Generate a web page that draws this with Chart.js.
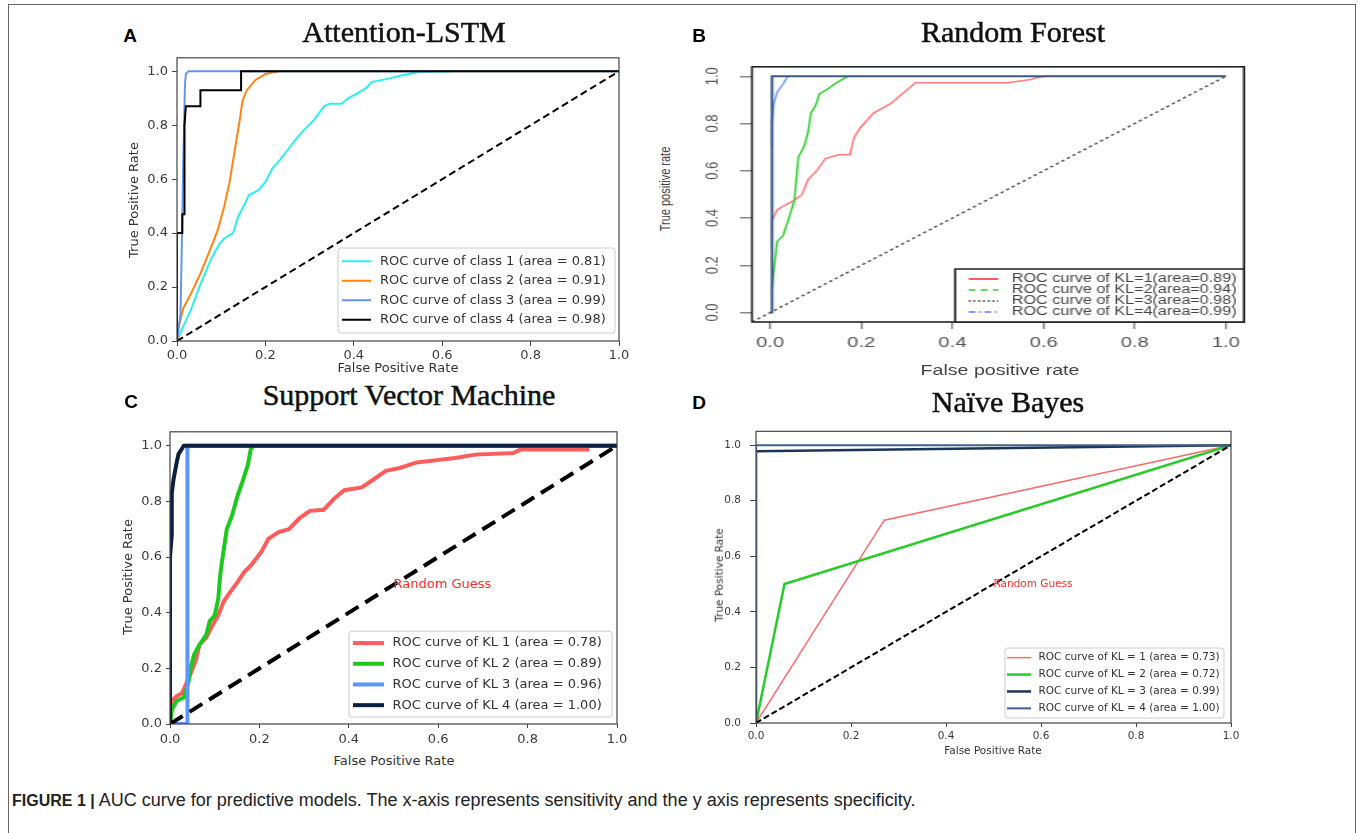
<!DOCTYPE html>
<html>
<head>
<meta charset="utf-8">
<script src="https://cdn.jsdelivr.net/npm/chart.js@4/dist/chart.umd.min.js"></script>
<style>
  html, body { margin: 0; padding: 0; background: #fff; width: 1360px; height: 833px; overflow: hidden; }
  body { position: relative; font-family: "DejaVu Sans", sans-serif; }
  #border { position: absolute; left: 8px; top: 4px; width: 1348px; height: 860px; border: 1px solid #666; box-sizing: border-box; }
  canvas { position: absolute; }
  .c { position: absolute; white-space: nowrap; line-height: 1; transform: translate(-50%, -50%); color: #333; }
  .rot { transform: translate(-50%, -50%) rotate(-90deg); }
  .ttl { font-family: "Liberation Serif", serif; font-size: 30px; color: #111; -webkit-text-stroke: 0.5px #111; }
  .let { font-family: "Liberation Sans", Arial, sans-serif; font-size: 19px; font-weight: bold; color: #000; }
  .mpl { font-size: 13px; }
  .mpls { font-size: 10.5px; }
  .rlab { font-family: "Liberation Sans", Arial, sans-serif; color: #444; }
  #caption { position: absolute; left: 12px; top: 790px; font-family: "Liberation Sans", Arial, sans-serif; font-size: 18px; color: #222; white-space: nowrap; }
  #caption b { font-size: 16px; }
</style>
</head>
<body>
<div id="border"></div>
<canvas id="lstm"></canvas>
<canvas id="forest"></canvas>
<canvas id="svm"></canvas>
<canvas id="bayes"></canvas>

<div class="c let" style="left:130px;top:35px">A</div>
<div class="c ttl" style="left:404px;top:32px">Attention-LSTM</div>
<div class="c mpl rot" style="left:133px;top:200px">True Positive Rate</div>
<div class="c mpl" style="left:398px;top:367px">False Positive Rate</div>

<div class="c let" style="left:699px;top:35px">B</div>
<div class="c ttl" style="left:1013px;top:32px">Random Forest</div>
<div class="c rlab" style="left:665px;top:189px;font-size:11px;transform:translate(-50%,-50%) rotate(-90deg) scaleY(1.35)">True positive rate</div>
<div class="c rlab" style="left:1000px;top:370px;font-size:14.5px;transform:translate(-50%,-50%) scaleX(1.35)">False positive rate</div>

<div class="c let" style="left:131px;top:401px">C</div>
<div class="c ttl" style="left:409px;top:395px">Support Vector Machine</div>
<div class="c mpl rot" style="left:127px;top:577px">True Positive Rate</div>
<div class="c mpl" style="left:394px;top:760px">False Positive Rate</div>

<div class="c let" style="left:699px;top:402px">D</div>
<div class="c ttl" style="left:1008px;top:402px">Naïve Bayes</div>
<div class="c mpls rot" style="left:719px;top:575px">True Positive Rate</div>
<div class="c mpls" style="left:993px;top:750px">False Positive Rate</div>

<div id="caption"><b>FIGURE 1 |</b> AUC curve for predictive models. The x-axis represents sensitivity and the y axis represents specificity.</div>

<script>
// tick values shared by all four panels
const axisTicks = [0, 0.2, 0.4, 0.6, 0.8, 1.0];
const chanceFpr = [0, 1];
const chanceTpr = [0, 1];

// A: Attention-LSTM
const lstmLabels = ['ROC curve of class 1 (area = 0.81)', 'ROC curve of class 2 (area = 0.91)',
  'ROC curve of class 3 (area = 0.99)', 'ROC curve of class 4 (area = 0.98)'];
const lstmFpr1 = [0, 0.01, 0.03, 0.053, 0.076, 0.096, 0.107, 0.127, 0.138, 0.154, 0.162, 0.185, 0.2, 0.216, 0.232, 0.251, 0.27, 0.286, 0.31, 0.333, 0.345, 0.372, 0.387, 0.41, 0.43, 0.44, 0.47, 0.51, 0.55, 0.62];
const lstmTpr1 = [0, 0.04, 0.11, 0.21, 0.30, 0.36, 0.38, 0.40, 0.46, 0.51, 0.54, 0.56, 0.59, 0.64, 0.67, 0.71, 0.75, 0.78, 0.82, 0.87, 0.88, 0.88, 0.90, 0.92, 0.94, 0.96, 0.97, 0.985, 0.998, 1.0];
const lstmFpr2 = [0, 0.002, 0.014, 0.03, 0.053, 0.068, 0.092, 0.107, 0.119, 0.131, 0.142, 0.148, 0.158, 0.177, 0.2, 0.23];
const lstmTpr2 = [0, 0.04, 0.12, 0.17, 0.25, 0.31, 0.41, 0.50, 0.59, 0.71, 0.82, 0.89, 0.93, 0.967, 0.99, 1.0];
const lstmFpr3 = [0, 0.008, 0.012, 0.014, 0.018, 0.02, 0.026, 1.0];
const lstmTpr3 = [0, 0.1, 0.45, 0.65, 0.95, 0.99, 1.0, 1.0];
const lstmFpr4 = [0, 0, 0.012, 0.012, 0.016, 0.016, 0.018, 0.02, 0.053, 0.053, 0.145, 0.145, 1.0];
const lstmTpr4 = [0, 0.40, 0.40, 0.47, 0.47, 0.60, 0.80, 0.87, 0.87, 0.93, 0.93, 1.0, 1.0];

// B: Random Forest
const forestLabels = ['ROC curve of KL=1(area=0.89)', 'ROC curve of KL=2(area=0.94)',
  'ROC curve of KL=3(area=0.98)', 'ROC curve of KL=4(area=0.99)'];
const forestFpr1 = [0.004, 0.004, 0.015, 0.032, 0.053, 0.07, 0.083, 0.104, 0.121, 0.15, 0.175, 0.184, 0.197, 0.226, 0.264, 0.294, 0.319, 0.521, 0.572, 0.589, 0.606, 1.0];
const forestTpr1 = [0.284, 0.39, 0.434, 0.454, 0.475, 0.50, 0.563, 0.604, 0.652, 0.668, 0.668, 0.74, 0.78, 0.843, 0.884, 0.932, 0.973, 0.973, 0.986, 0.996, 1.0, 1.0];
const forestFpr2 = [0.004, 0.007, 0.015, 0.028, 0.04, 0.053, 0.057, 0.062, 0.074, 0.083, 0.089, 0.1, 0.108, 0.125, 0.146, 0.167, 0.171];
const forestTpr2 = [0.1, 0.16, 0.30, 0.325, 0.393, 0.475, 0.557, 0.659, 0.70, 0.761, 0.843, 0.877, 0.925, 0.945, 0.973, 0.996, 1.0];
const forestFpr3 = [0, 0.004, 0.004, 1.0];
const forestTpr3 = [0, 0, 1.0, 1.0];
const forestFpr4 = [0.004, 0.004, 0.008, 0.015, 0.028, 0.036, 0.04];
const forestTpr4 = [0.693, 0.8, 0.884, 0.932, 0.966, 0.993, 1.0];
const forestChanceFpr = [-0.04, 1.0];
const forestChanceTpr = [-0.04, 1.0];

// C: Support Vector Machine
const svmLabels = ['ROC curve of KL 1 (area = 0.78)', 'ROC curve of KL 2 (area = 0.89)',
  'ROC curve of KL 3 (area = 0.96)', 'ROC curve of KL 4 (area = 1.00)'];
const svmFpr1 = [0, 0.004, 0.015, 0.027, 0.035, 0.046, 0.058, 0.066, 0.081, 0.097, 0.108, 0.12, 0.135, 0.151, 0.166, 0.181, 0.205, 0.22, 0.243, 0.266, 0.29, 0.313, 0.344, 0.367, 0.39, 0.429, 0.452, 0.483, 0.514, 0.552, 0.606, 0.637, 0.683, 0.768, 0.784, 0.938];
const svmTpr1 = [0, 0.083, 0.10, 0.11, 0.14, 0.18, 0.23, 0.285, 0.31, 0.36, 0.39, 0.44, 0.475, 0.51, 0.546, 0.57, 0.62, 0.665, 0.69, 0.70, 0.74, 0.766, 0.77, 0.81, 0.84, 0.85, 0.875, 0.91, 0.92, 0.94, 0.95, 0.956, 0.968, 0.974, 0.986, 0.986];
const svmFpr2 = [0, 0.004, 0.015, 0.031, 0.042, 0.046, 0.054, 0.066, 0.081, 0.089, 0.1, 0.108, 0.112, 0.116, 0.127, 0.139, 0.151, 0.162, 0.174, 0.181, 0.189];
const svmTpr2 = [0, 0.05, 0.083, 0.095, 0.154, 0.2, 0.25, 0.285, 0.32, 0.37, 0.39, 0.45, 0.53, 0.58, 0.70, 0.75, 0.82, 0.87, 0.93, 0.99, 1.0];
const svmFpr3 = [0, 0.039, 0.039, 1.0];
const svmTpr3 = [0, 0, 1.0, 1.0];
const svmFpr4 = [0, 0, 0.004, 0.004, 0.008, 0.015, 0.019, 0.027, 0.031, 1.0];
const svmTpr4 = [0, 0.6, 0.68, 0.83, 0.88, 0.94, 0.97, 0.99, 1.0, 1.0];

// D: Naive Bayes
const bayesLabels = ['ROC curve of KL = 1 (area = 0.73)', 'ROC curve of KL = 2 (area = 0.72)',
  'ROC curve of KL = 3 (area = 0.99)', 'ROC curve of KL = 4 (area = 1.00)'];
const bayesFpr1 = [0, 0.27, 1.0];
const bayesTpr1 = [0, 0.73, 1.0];
const bayesFpr2 = [0, 0.06, 1.0];
const bayesTpr2 = [0, 0.50, 1.0];
const bayesFpr3 = [0, 0, 1.0];
const bayesTpr3 = [0, 0.978, 1.0];
const bayesFpr4 = [0, 0, 1.0];
const bayesTpr4 = [0, 1.0, 1.0];

const noteText = 'Random Guess';

// plugins: full box around the plot, legend inside the plot, free text at data coords
const frameBox = {
  id: 'frameBox',
  afterDatasetsDraw(chart, args, o) {
    if (!o.color) return;
    const a = chart.chartArea, ctx = chart.ctx;
    ctx.save();
    ctx.strokeStyle = o.color; ctx.lineWidth = o.width;
    ctx.strokeRect(a.left, a.top, a.right - a.left, a.bottom - a.top);
    ctx.restore();
  }
};
const boxLegend = {
  id: 'boxLegend',
  afterDatasetsDraw(chart, args, o) {
    if (!o.width) return;
    const ctx = chart.ctx, a = chart.chartArea;
    const items = chart.data.datasets.filter(d => d.label);
    const h = o.pad * 2 + o.rowH * items.length;
    const x0 = a.right - o.right - o.width, y0 = a.bottom - o.bottom - h;
    ctx.save();
    ctx.fillStyle = 'rgba(255,255,255,0.85)';
    ctx.strokeStyle = o.border; ctx.lineWidth = o.borderWidth;
    ctx.beginPath(); ctx.roundRect(x0, y0, o.width, h, o.radius); ctx.fill(); ctx.stroke();
    items.forEach((d, i) => {
      const y = y0 + o.pad + o.rowH * (i + 0.5);
      ctx.strokeStyle = d.legendColor || d.borderColor;
      ctx.lineWidth = d.legendWidth || d.borderWidth;
      ctx.setLineDash(d.legendDash || []);
      ctx.beginPath(); ctx.moveTo(x0 + o.sample[0], y); ctx.lineTo(x0 + o.sample[1], y); ctx.stroke();
      ctx.setLineDash([]);
      ctx.fillStyle = o.color; ctx.font = o.font;
      ctx.textBaseline = 'middle'; ctx.textAlign = 'left';
      ctx.fillText(d.label, x0 + o.textX, y);
    });
    ctx.restore();
  }
};
const note = {
  id: 'note',
  afterDatasetsDraw(chart, args, o) {
    if (!o.text) return;
    const ctx = chart.ctx;
    ctx.save();
    ctx.font = o.font; ctx.fillStyle = o.color; ctx.textBaseline = 'middle'; ctx.textAlign = 'left';
    ctx.fillText(o.text, chart.scales.x.getPixelForValue(o.x), chart.scales.y.getPixelForValue(o.y));
    ctx.restore();
  }
};
Chart.register(frameBox, boxLegend, note);

function curve(label, fpr, tpr, color, width, order, extra) {
  return Object.assign({
    label, data: fpr.map((x, i) => ({ x, y: tpr[i] })),
    borderColor: color, backgroundColor: color, borderWidth: width,
    showLine: true, pointRadius: 0, fill: false, tension: 0, order
  }, extra || {});
}

function makeChart(id, s) {
  const cv = document.getElementById(id);
  const sx = s.sx || 1;
  const cssW = s.frame.r - s.frame.l + s.m.l + s.m.r;
  const cssH = s.frame.b - s.frame.t + s.m.t + s.m.b;
  cv.style.left = (s.frame.l - s.m.l) + 'px';
  cv.style.top = (s.frame.t - s.m.t) + 'px';
  cv.style.width = cssW + 'px';
  cv.style.height = cssH + 'px';
  cv.width = Math.round(cssW / sx);
  cv.height = cssH;
  const setTicks = sc => { sc.ticks = axisTicks.map(v => ({ value: v })); };
  return new Chart(cv, {
    type: 'scatter',
    data: { datasets: s.datasets },
    options: {
      responsive: false, animation: false, events: [],
      layout: { padding: { left: 0, top: s.m.t, right: s.m.r / sx, bottom: 0 } },
      plugins: { legend: { display: false }, tooltip: { enabled: false },
        frameBox: s.box, boxLegend: s.legend, note: s.note || {} },
      scales: {
        x: {
          type: 'linear', min: s.xr[0], max: s.xr[1],
          afterBuildTicks: setTicks,
          afterFit: sc => { sc.height = s.m.b; },
          border: { display: false },
          grid: { drawOnChartArea: false, tickLength: s.tickX, color: s.tickColor, lineWidth: s.tickWidth },
          ticks: { font: { family: s.family, size: s.fontX }, color: s.tickText, padding: s.padX,
            maxRotation: 0, minRotation: 0, autoSkip: false, callback: v => v.toFixed(1) }
        },
        y: {
          type: 'linear', min: s.yr[0], max: s.yr[1],
          afterBuildTicks: setTicks,
          afterFit: sc => { sc.width = s.m.l / sx; },
          border: { display: false },
          grid: { drawOnChartArea: false, tickLength: s.tickY, color: s.tickColor, lineWidth: s.tickWidth },
          ticks: { font: { family: s.family, size: s.fontY }, color: s.tickText, padding: s.padY,
            minRotation: s.yRot || 0, maxRotation: s.yRot || 0, crossAlign: s.yRot ? 'center' : 'near',
            autoSkip: false, callback: v => v.toFixed(1) }
        }
      }
    }
  });
}

// A
makeChart('lstm', {
  frame: { l: 177, t: 56, r: 619, b: 341 }, m: { l: 60, r: 20, t: 10, b: 25 },
  xr: [0, 1], yr: [0, 1.05], family: 'DejaVu Sans', fontX: 13, fontY: 13,
  tickX: 5, tickY: 5, padX: 2, padY: 4, tickColor: '#444', tickWidth: 1, tickText: '#3a3a3a',
  box: { color: '#444', width: 1.2 },
  legend: { width: 277, right: 4, bottom: 8, rowH: 19.5, pad: 3.5, sample: [4, 33], textX: 42,
    font: '13px "DejaVu Sans"', color: '#333', border: '#cccccc', borderWidth: 1, radius: 3 },
  datasets: [
    curve(lstmLabels[0], lstmFpr1, lstmTpr1, '#29f0f0', 2, 10),
    curve(lstmLabels[1], lstmFpr2, lstmTpr2, '#ff8410', 2, 9),
    curve(lstmLabels[2], lstmFpr3, lstmTpr3, '#6495ed', 2, 8),
    curve(lstmLabels[3], lstmFpr4, lstmTpr4, '#000000', 2, 7),
    curve('', chanceFpr, chanceTpr, '#000000', 2, 0, { borderDash: [7, 4] })
  ]
});

// B (R output, stretched sideways)
const rs = 1.35;
makeChart('forest', {
  sx: rs,
  frame: { l: 752, t: 58, r: 1244, b: 322 }, m: { l: 60, r: 20, t: 10, b: 35 },
  xr: [-0.04, 1.04], yr: [-0.04, 1.04], family: 'Liberation Sans', fontX: 15, fontY: 13, yRot: 90,
  tickX: 7, tickY: 12 / rs, padX: 5, padY: 11, tickColor: '#888', tickWidth: 1.5, tickText: '#555',
  box: { color: '#222', width: 1.6 },
  legend: { width: 289 / rs, right: 0, bottom: 0, rowH: 11, pad: 4.5, sample: [13.5 / rs, 43 / rs], textX: 56.5 / rs,
    font: '12px "Liberation Sans"', color: '#444', border: '#222', borderWidth: 1.6, radius: 0 },
  datasets: [
    curve(forestLabels[0], forestFpr1, forestTpr1, '#ff7a7a', 1.5, 9, { legendColor: '#ff5a5a', legendWidth: 2 }),
    curve(forestLabels[1], forestFpr2, forestTpr2, '#30d030', 1.5, 8, { legendDash: [5, 4], legendWidth: 1.6 }),
    curve(forestLabels[2], forestFpr3, forestTpr3, '#3b5a82', 2, 6, { legendColor: '#333', legendDash: [1.5, 2], legendWidth: 1.6 }),
    curve(forestLabels[3], forestFpr4, forestTpr4, '#7a9cff', 1.5, 7, { legendColor: '#7070ff', legendDash: [5, 2.5, 1.5, 2.5], legendWidth: 1.6 }),
    curve('', forestChanceFpr, forestChanceTpr, '#555555', 1.5, 10, { borderDash: [2.5, 2.5] })
  ]
});

// C
makeChart('svm', {
  frame: { l: 170, t: 430, r: 617, b: 724 }, m: { l: 55, r: 20, t: 10, b: 25 },
  xr: [0, 1], yr: [0, 1.05], family: 'DejaVu Sans', fontX: 13, fontY: 13,
  tickX: 4, tickY: 4, padX: 4, padY: 4, tickColor: '#444', tickWidth: 1, tickText: '#3a3a3a',
  box: { color: '#444', width: 1.2 },
  legend: { width: 263, right: 5, bottom: 7, rowH: 20.7, pad: 1.5, sample: [4, 35], textX: 43.5,
    font: '13px "DejaVu Sans"', color: '#333', border: '#cccccc', borderWidth: 1, radius: 3 },
  note: { text: noteText, x: 0.5, y: 0.5, font: '13px "DejaVu Sans"', color: '#ff2a2a' },
  datasets: [
    curve(svmLabels[0], svmFpr1, svmTpr1, '#ff5c5c', 4, 10),
    curve(svmLabels[1], svmFpr2, svmTpr2, '#1ec81e', 4, 9),
    curve(svmLabels[2], svmFpr3, svmTpr3, '#5b95ff', 4, 8),
    curve(svmLabels[3], svmFpr4, svmTpr4, '#0b1f3f', 4, 7),
    curve('', chanceFpr, chanceTpr, '#000000', 4, 0, { borderDash: [15, 8] })
  ]
});

// D
makeChart('bayes', {
  frame: { l: 756, t: 426, r: 1231, b: 723 }, m: { l: 50, r: 20, t: 10, b: 22 },
  xr: [0, 1], yr: [0, 1.05], family: 'DejaVu Sans', fontX: 10.5, fontY: 10.5,
  tickX: 4, tickY: 6, padX: 3, padY: 9, tickColor: '#444', tickWidth: 1, tickText: '#3a3a3a',
  box: { color: '#444', width: 1.2 },
  legend: { width: 219, right: 7, bottom: 5, rowH: 16.9, pad: 1.2, sample: [2, 26], textX: 33.5,
    font: '10.5px "DejaVu Sans"', color: '#333', border: '#cccccc', borderWidth: 1, radius: 3 },
  note: { text: noteText, x: 0.5, y: 0.5, font: '10.5px "DejaVu Sans"', color: '#ff2a2a' },
  datasets: [
    curve(bayesLabels[0], bayesFpr1, bayesTpr1, '#ff6a6a', 1.5, 10),
    curve(bayesLabels[1], bayesFpr2, bayesTpr2, '#27cc27', 2.5, 9),
    curve(bayesLabels[2], bayesFpr3, bayesTpr3, '#1b3556', 2.5, 8),
    curve(bayesLabels[3], bayesFpr4, bayesTpr4, '#41618a', 2, 7),
    curve('', chanceFpr, chanceTpr, '#000000', 2, 0, { borderDash: [6, 3] })
  ]
});
</script>
</body>
</html>
